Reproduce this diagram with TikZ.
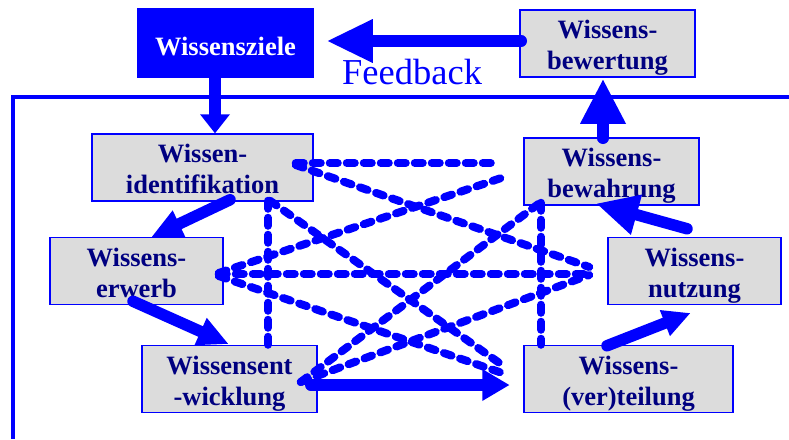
\documentclass[tikz,border=0pt]{standalone}
\usepackage{fontspec}
\setmainfont{Liberation Serif}
\usetikzlibrary{arrows.meta,calc}
\definecolor{kblue}{RGB}{0,0,255}
\definecolor{knavy}{RGB}{0,0,128}
\definecolor{kgray}{RGB}{220,220,220}
\newcommand{\twoline}[2]{\begin{tabular}[t]{@{}c@{}}#1\\#2\end{tabular}}
\begin{document}
\begin{tikzpicture}[x=1pt,y=-1pt,
  box/.style={draw=kblue, line width=1.5pt, fill=kgray, inner sep=0pt,
    text height=28.5pt, text depth=38.5pt,
    font=\fontsize{26.5}{31}\selectfont\bfseries, text=knavy},
  goalbox/.style={box, fill=kblue, text=white, text height=46pt, text depth=22pt},
  dline/.style={draw=kblue, line width=8pt, line cap=round, dash pattern=on 8pt off 9pt},
  arr/.style={draw=kblue, line width=11.5pt, line cap=round},
  frame/.style={draw=kblue, line width=4pt, line join=miter},
  fbtext/.style={anchor=base west, inner sep=0pt, text=kblue, font=\fontsize{36.5}{40}\selectfont}
]
\useasboundingbox (0,0) rectangle (789,439);

% frame
\coordinate (fr1) at (789,97);
\coordinate (fr2) at (13,97);
\coordinate (fr3) at (13,439);
\draw[frame] (fr1) -- (fr2) -- (fr3);

% boxes
\node[goalbox, minimum width=175pt] (ziele) at (225.5,43) {Wissensziele};
\node[box, minimum width=175pt] (bewertung) at (607.5,43.5) {\twoline{Wissens-}{bewertung}};
\node[box, minimum width=221pt] (ident) at (202.5,167.5) {\twoline{Wissen-}{identifikation}};
\node[box, minimum width=175pt] (bewahrung) at (611.5,171.5) {\twoline{Wissens-}{bewahrung}};
\node[box, minimum width=173pt] (erwerb) at (136.5,271) {\twoline{Wissens-}{erwerb}};
\node[box, minimum width=173pt] (nutzung) at (694.5,271) {\twoline{Wissens-}{nutzung}};
\node[box, minimum width=175pt] (entwicklung) at (229.5,379) {\twoline{Wissensent}{-wicklung}};
\node[box, minimum width=209pt] (teilung) at (628.5,379) {\twoline{Wissens-}{(ver)teilung}};

\node[fbtext] (fb) at (342,84) {Feedback};

% dashed connections
\draw[dline] ($(ident.east)+(-18,-4.5)$) -- ($(bewahrung.west)+(-24,-8.5)$);
\draw[dline] ($(ident.east)+(-18,-2.5)$) -- ($(nutzung.west)+(-18,-4)$);
\draw[dline] ($(erwerb.east)+(-5,2)$) -- ($(bewahrung.west)+(-19,5.5)$);
\draw[dline] ($(erwerb.east)+(-5,3)$) -- ($(nutzung.west)+(-18,3)$);
\draw[dline] ($(erwerb.east)+(-5,5)$) -- ($(teilung.west)+(-21,-6)$);
\draw[dline] ($(ident.south)+(65.5,-1)$) -- ($(entwicklung.north)+(38.5,0)$);
\draw[dline] ($(ident.south)+(67.5,-1)$) -- ($(teilung.west)+(-21,-14)$);
\draw[dline] ($(entwicklung.east)+(-17,3)$) -- ($(bewahrung.south)+(-71.5,-3)$);
\draw[dline] ($(entwicklung.east)+(-17,3)$) -- ($(nutzung.west)+(-18,4)$);
\draw[dline] ($(bewahrung.south)+(-70.5,-3)$) -- ($(teilung.north)+(-87.5,0)$);

% block arrows
\draw[arr, -{Triangle[length=45pt,width=44pt,line width=0pt]}]
  ($(bewertung.west)+(2,-2.5)$) -- ($(ziele.east)+(14,-2)$);
\draw[arr, -{Triangle[length=19pt,width=30pt,line width=0pt]}]
  ($(ziele.south)+(-10.5,0)$) -- ($(ident.north)+(12.5,0)$);
\draw[arr, -{Triangle[length=44pt,width=46pt,line width=0pt]}]
  ($(bewahrung.north)+(-8.5,1)$) -- ($(bewertung.south)+(-4.5,2)$);
\draw[arr, -{Triangle[length=30pt,width=30pt,line width=0pt]}]
  ($(ident.south)+(27.5,-2)$) -- ($(erwerb.north)+(15.5,0)$);
\draw[arr, -{Triangle[length=30pt,width=30pt,line width=0pt]}]
  ($(erwerb.south)+(-3.5,-4)$) -- ($(entwicklung.north)+(-1.5,-1)$);
\draw[arr, -{Triangle[length=27pt,width=32pt,line width=0pt]}]
  ($(entwicklung.east)+(-7,6)$) -- ($(teilung.west)+(-14,6)$);
\draw[arr, -{Triangle[length=27pt,width=28pt,line width=0pt]}]
  ($(teilung.north)+(-21.5,1)$) -- ($(nutzung.south)+(-4.5,8)$);
\draw[arr, -{Triangle[length=41pt,width=42pt,line width=0pt]}]
  ($(nutzung.north)+(-7.5,-8)$) -- ($(bewahrung.south)+(-14.5,-2)$);
\end{tikzpicture}
\end{document}
